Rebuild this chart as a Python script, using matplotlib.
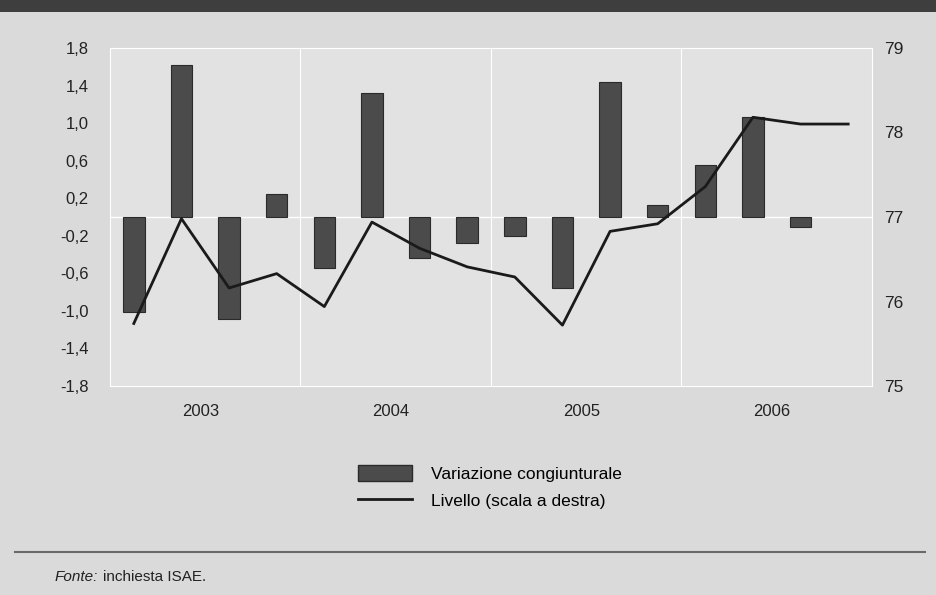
import numpy as np
import matplotlib
matplotlib.use("Agg")
import matplotlib.pyplot as plt
from matplotlib.patches import Rectangle, Patch
from matplotlib.lines import Line2D

plt.rcParams['font.family'] = ['Liberation Sans', 'DejaVu Sans']

## Dati trimestrali 2003Q1 - 2006Q4 (ultimo trimestre: nessuna barra)
variazione = [-1.01, 1.62, -1.09, 0.24,
              -0.54, 1.32, -0.44, -0.28,
              -0.20, -0.76, 1.44, 0.13,
              0.55, 1.07, -0.11, np.nan]
livello = [75.74, 76.98, 76.16, 76.33,
           75.94, 76.94, 76.63, 76.41,
           76.29, 75.72, 76.83, 76.92,
           77.36, 78.18, 78.10, 78.10]
anni = ["2003", "2004", "2005", "2006"]
left_ticks = [-1.8, -1.4, -1.0, -0.6, -0.2, 0.2, 0.6, 1.0, 1.4, 1.8]
left_labels = ["-1,8", "-1,4", "-1,0", "-0,6", "-0,2", "0,2", "0,6", "1,0", "1,4", "1,8"]
right_ticks = [75, 76, 77, 78, 79]

x = np.arange(len(variazione))

fig = plt.figure(figsize=(9.37, 5.95), dpi=100)
fig.patch.set_facecolor('#dadada')
ax = fig.add_axes([110/937, 1-386/595, 762/937, 338/595])
ax.set_facecolor('#e2e2e2')

ax.bar(x, variazione, width=0.45, color='#4b4b4b', edgecolor='#2a2a2a', linewidth=0.8, zorder=3)
ax.axhline(0, color='white', lw=1.0, zorder=2)
for k in range(1, 4):
    ax.axvline(4*k - 0.5, color='white', lw=0.8, zorder=1)
ax.set_xlim(-0.5, 15.5)
ax.set_ylim(-1.8, 1.8)
ax.set_yticks(left_ticks)
ax.set_yticklabels(left_labels)
ax.set_xticks([1.4 + 4*i for i in range(len(anni))])
ax.set_xticklabels(anni)
ax.tick_params(length=0, labelsize=12, colors='#222222')
ax.tick_params(axis='y', pad=15.5)
ax.tick_params(axis='x', pad=13)
for s in ax.spines.values():
    s.set_color('white')
    s.set_linewidth(0.8)

ax2 = ax.twinx()
ax2.plot(x, livello, color='#1a1a1a', lw=2.0, zorder=4)
ax2.set_ylim(75, 79)
ax2.set_yticks(right_ticks)
ax2.tick_params(length=0, labelsize=12.5, colors='#222222', pad=9)
for s in ax2.spines.values():
    s.set_visible(False)

handles = [Patch(facecolor='#4b4b4b', edgecolor='#2a2a2a'),
           Line2D([], [], color='#1a1a1a', lw=2.0)]
fig.legend(handles, ["Variazione congiunturale", "Livello (scala a destra)"],
           loc='center', bbox_to_anchor=(490/937, 1-487/595), frameon=False,
           fontsize=12.5, handlelength=3.1, handleheight=1.0, handletextpad=1.1,
           labelspacing=0.6)

# banda scura in alto
fig.patches.append(Rectangle((0, 1-12/595), 1, 12/595, transform=fig.transFigure,
                             facecolor='#3e3e3e', edgecolor='none'))
# linea separatrice
fig.add_artist(Line2D([15/937, 925/937], [1-552/595, 1-552/595], color='#6a6a6a', lw=1.5))
fig.text(55/937, 1-577/595, "Fonte:", fontsize=11, style='italic', va='center', color='#222222')
fig.text(103/937, 1-577/595, "inchiesta ISAE.", fontsize=11, va='center', color='#222222')

fig.savefig("out.png", dpi=100, facecolor=fig.get_facecolor())
